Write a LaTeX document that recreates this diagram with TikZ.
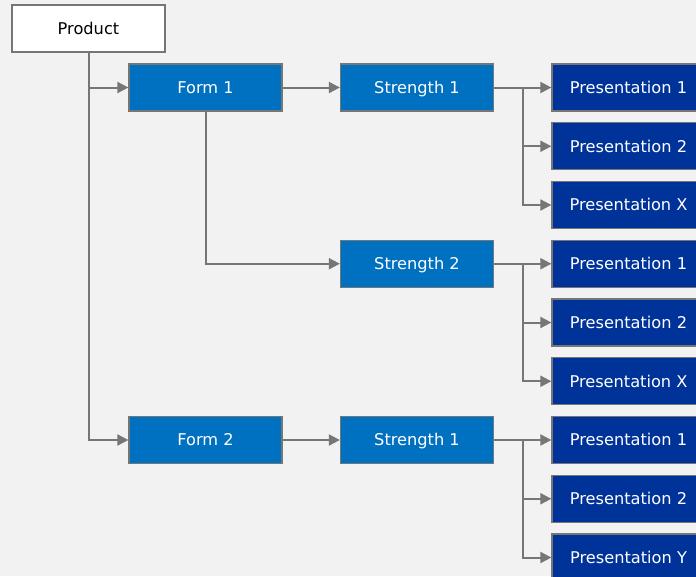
\documentclass[tikz,border=0pt]{standalone}
\usepackage{fontspec}
\setmainfont{DejaVu Sans}
\usetikzlibrary{arrows.meta,calc}
\definecolor{bg}{HTML}{F2F2F2}
\definecolor{lineg}{HTML}{767676}
\definecolor{midblue}{HTML}{0070C0}
\definecolor{darkblue}{HTML}{003399}
\tikzset{
  box/.style={rectangle, draw=lineg, line width=1.3pt, minimum width=153pt, minimum height=47pt, inner sep=0pt, text height=11.9pt, text depth=0pt, font=\fontsize{16.2}{19}\selectfont},
  topbox/.style={box, fill=white, text=black},
  midbox/.style={box, fill=midblue, text=white},
  presbox/.style={box, fill=darkblue, text=white},
  conn/.style={draw=lineg, line width=2pt, -{Triangle[length=11pt,width=11pt]}},
  plain/.style={draw=lineg, line width=2pt}
}
\begin{document}
\begin{tikzpicture}[x=1pt,y=-1pt]
\fill[bg] (0,0) rectangle (696,576);
\useasboundingbox (0,0) rectangle (696,576);
\clip (0,0) rectangle (696,576);
\def\r#1{87.5+58.75*#1}
\node[topbox] (prod) at (88.5,28.5) {Product};
\node[midbox] (f1) at (205.5,{\r0}) {Form 1};
\node[midbox] (f2) at (205.5,{\r6}) {Form 2};
\node[midbox] (s1) at (417,{\r0}) {Strength 1};
\node[midbox] (s2) at (417,{\r3}) {Strength 2};
\node[midbox] (s3) at (417,{\r6}) {Strength 1};
\node[presbox] (p1) at (628.5,{\r0}) {Presentation 1};
\node[presbox] (p2) at (628.5,{\r1}) {Presentation 2};
\node[presbox] (p3) at (628.5,{\r2}) {Presentation X};
\node[presbox] (p4) at (628.5,{\r3}) {Presentation 1};
\node[presbox] (p5) at (628.5,{\r4}) {Presentation 2};
\node[presbox] (p6) at (628.5,{\r5}) {Presentation X};
\node[presbox] (p7) at (628.5,{\r6}) {Presentation 1};
\node[presbox] (p8) at (628.5,{\r7}) {Presentation 2};
\node[presbox] (p9) at (628.5,{\r8}) {Presentation Y};
% product trunk
\draw[conn] (prod.south) |- (f1.west);
\draw[conn] (prod.south) |- (f2.west);
% form to strength
\draw[conn] (f1.east) -- (s1.west);
\draw[conn] (f1.south) |- (s2.west);
\draw[conn] (f2.east) -- (s3.west);
% strength to presentations
\coordinate (j1) at ($(s1.east)!0.5!(p1.west)$);
\coordinate (j2) at ($(s2.east)!0.5!(p4.west)$);
\coordinate (j3) at ($(s3.east)!0.5!(p7.west)$);
\draw[conn] (s1.east) -- (p1.west);
\draw[conn] (j1) |- (p2.west);
\draw[conn] (j1) |- (p3.west);
\draw[conn] (s2.east) -- (p4.west);
\draw[conn] (j2) |- (p5.west);
\draw[conn] (j2) |- (p6.west);
\draw[conn] (s3.east) -- (p7.west);
\draw[conn] (j3) |- (p8.west);
\draw[conn] (j3) |- (p9.west);
\end{tikzpicture}
\end{document}
